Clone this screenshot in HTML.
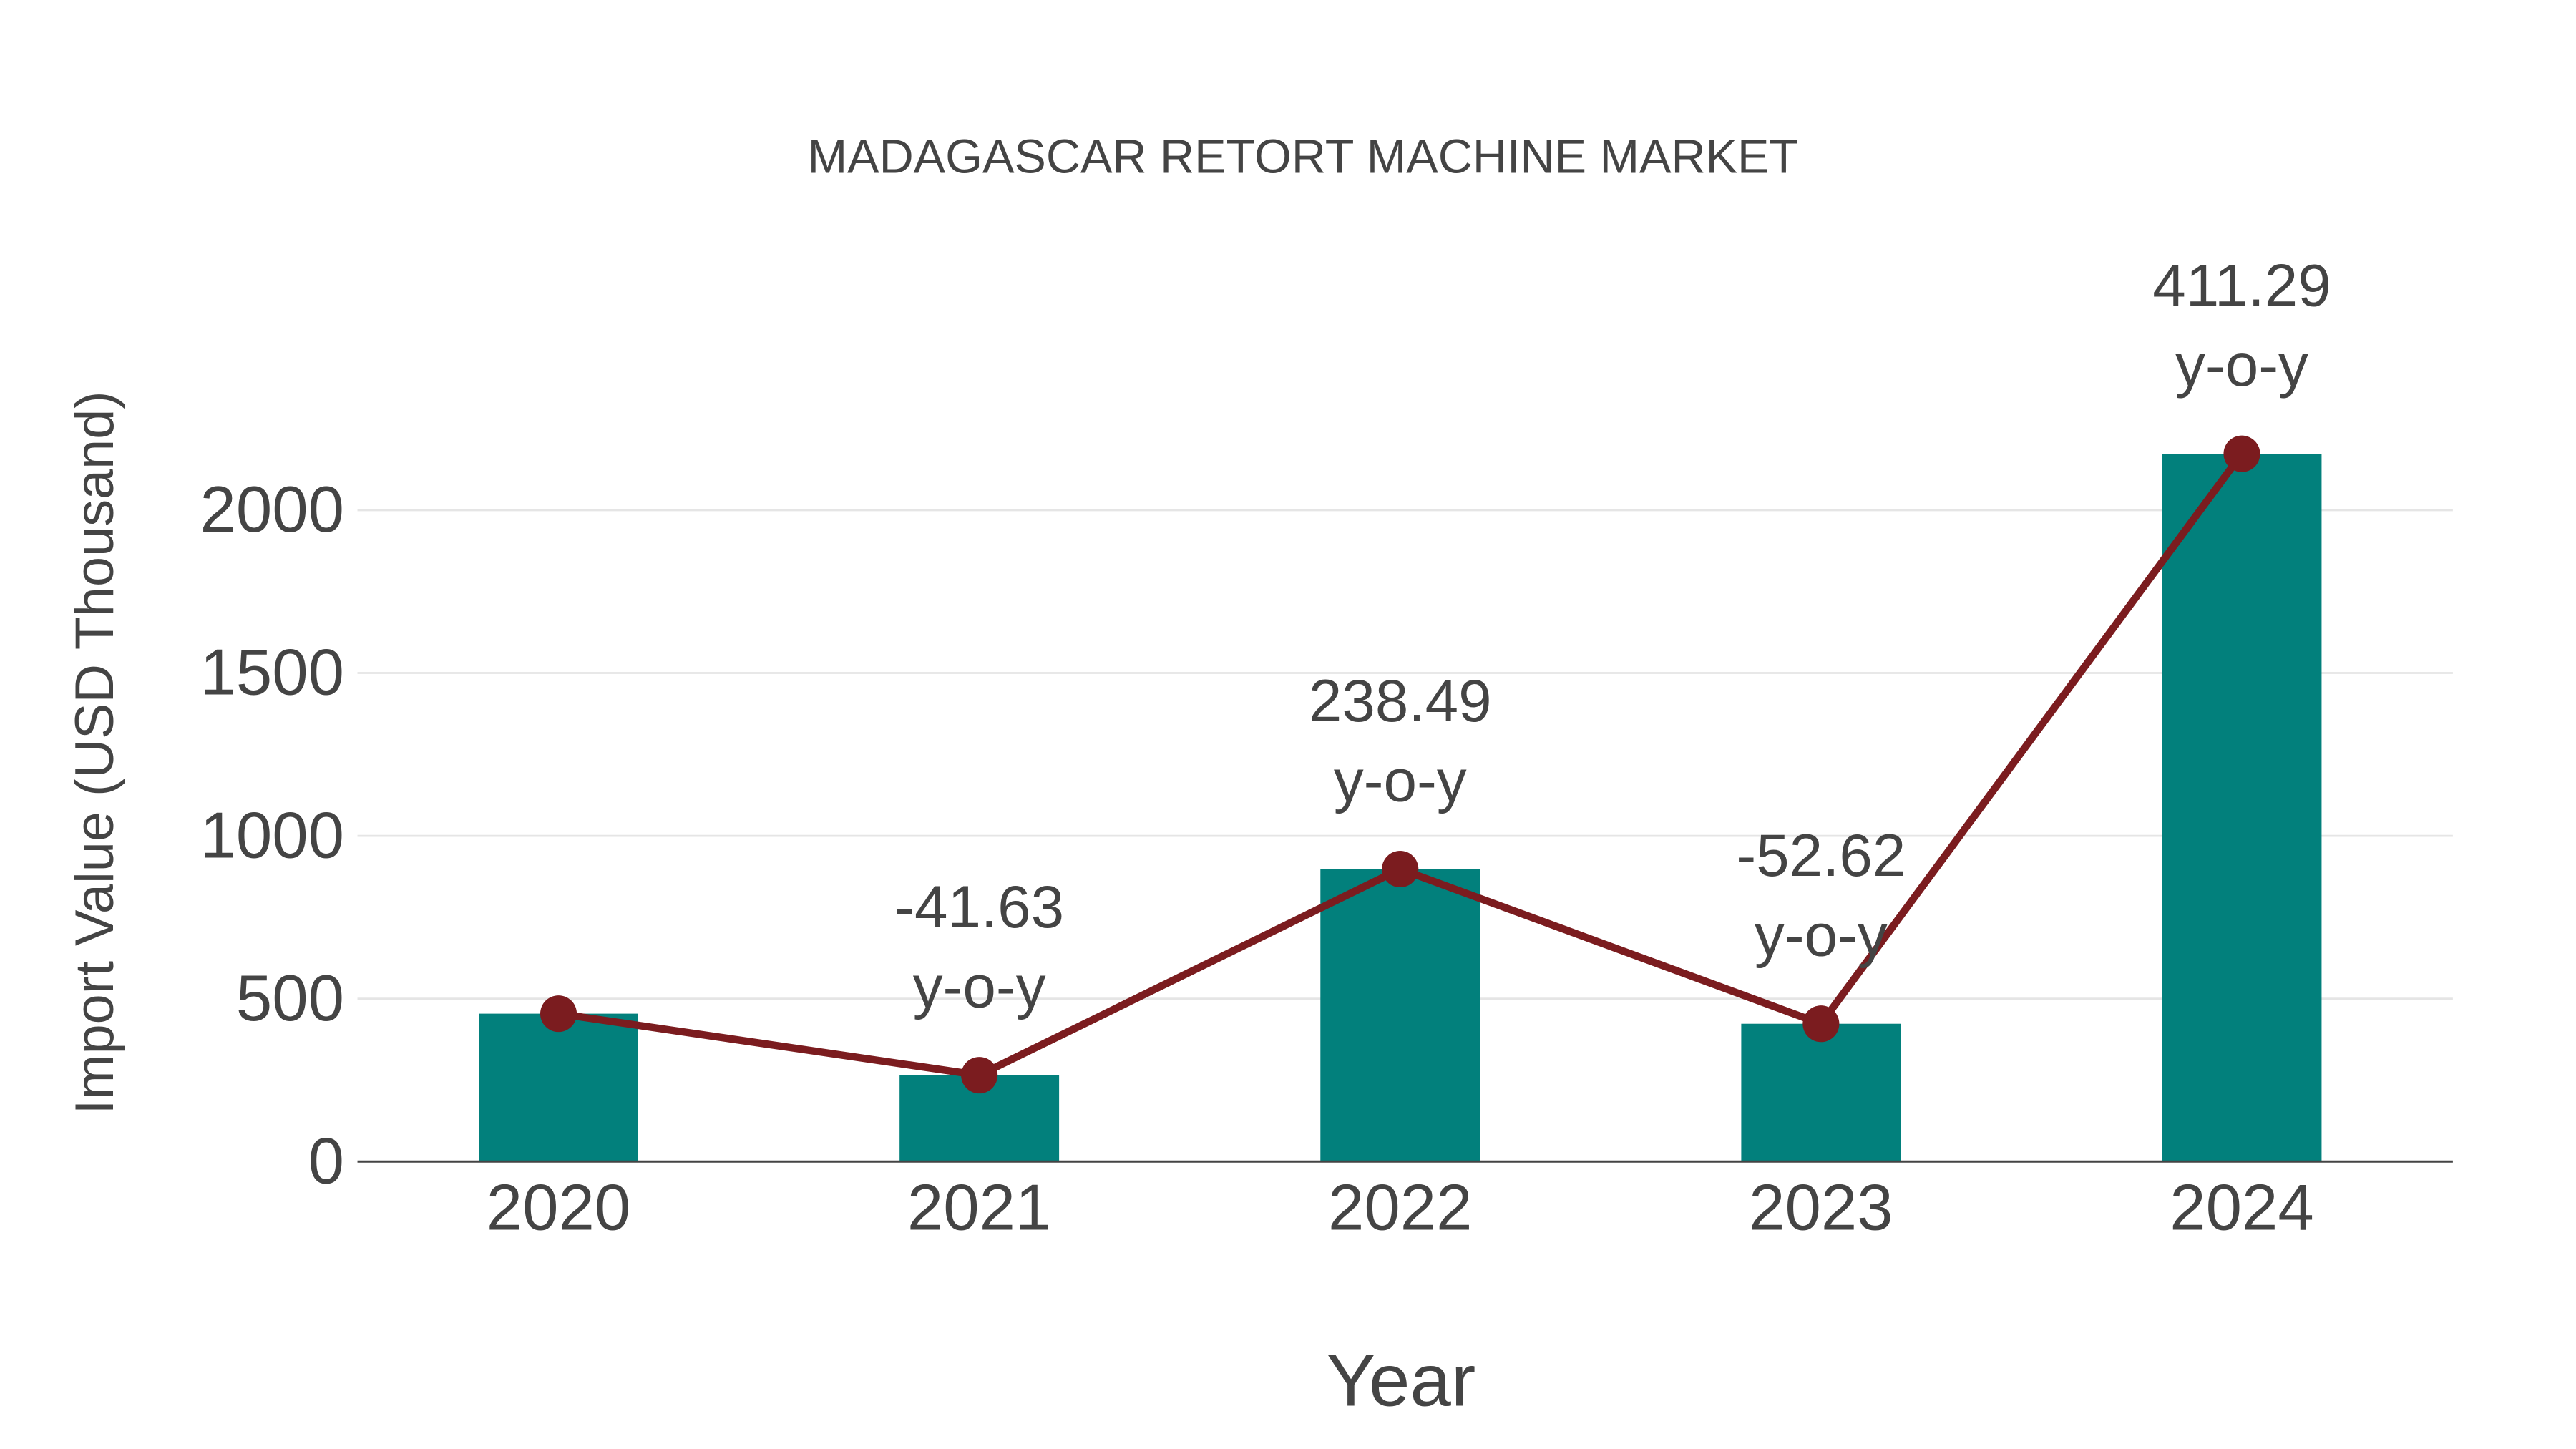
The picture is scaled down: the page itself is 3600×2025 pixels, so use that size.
<!DOCTYPE html>
<html><head><meta charset="utf-8"><style>
html,body{margin:0;padding:0;background:#fff}
svg{display:block}
text{font-family:"Liberation Sans",sans-serif;fill:#444}
</style></head><body>
<svg id="chart" width="3600" height="2025" viewBox="0 0 1550 872" xmlns="http://www.w3.org/2000/svg">
<rect width="1550" height="872" fill="#fff"/>
<text x="784" y="104" font-size="28.7" text-anchor="middle">MADAGASCAR RETORT MACHINE MARKET</text>
<g id="grid"></g>
<g id="bars"></g>
<line x1="215" x2="1476" y1="699" y2="699" stroke="#444" stroke-width="1.3"/>
<g id="line"></g>
<g id="labels"></g>
<text transform="translate(68,453) rotate(-90)" font-size="32.6" text-anchor="middle">Import Value (USD Thousand)</text>
<text x="843" y="846" font-size="44.5" text-anchor="middle">Year</text>
</svg>
<script>
const categories=["2020","2021","2022","2023","2024"];
const values=[454,265,898,423,2173];
const yoyLabels=["","-41.63","238.49","-52.62","411.29"];
const yTicks=[0,500,1000,1500,2000];
const NS="http://www.w3.org/2000/svg";
const xS=i=>336+i*253.25;
const yS=v=>699-v*0.196;
function mk(t,a,p){const e=document.createElementNS(NS,t);for(const k in a)e.setAttribute(k,a[k]);p.appendChild(e);return e;}
const grid=document.getElementById('grid');
yTicks.forEach(t=>{
  if(t>0){const l=mk('line',{x1:215,x2:1476,y1:yS(t),y2:yS(t),stroke:'#e5e5e5','stroke-width':1.2},grid);
  
  }
  const tx=mk('text',{x:207,y:yS(t)+13,'font-size':39,'text-anchor':'end'},grid);tx.textContent=t;
  
  
});
const bars=document.getElementById('bars');
categories.forEach((c,i)=>{
  const b=mk('rect',{x:xS(i)-48,y:yS(values[i]),width:96,height:yS(0)-yS(values[i]),fill:'#02807c'},bars);
  
  
  const tx=mk('text',{x:xS(i),y:740,'font-size':39,'text-anchor':'middle'},bars);tx.textContent=c;
  
  
});
const lg=document.getElementById('line');
const pl=mk('polyline',{points:values.map((v,i)=>xS(i)+','+yS(v)).join(' '),fill:'none',stroke:'#7b1c1f','stroke-width':4.5},lg);


values.forEach((v,i)=>{
  const c=mk('circle',{cx:xS(i),cy:yS(v),r:11,fill:'#7b1c1f'},lg);
  
  
});
const lb=document.getElementById('labels');
yoyLabels.forEach((s,i)=>{
  if(!s)return;
  const y=yS(values[i]);
  const t1=mk('text',{x:xS(i),y:y-89,'font-size':36,'text-anchor':'middle'},lb);t1.textContent=s;
  
  
  const t2=mk('text',{x:xS(i),y:y-41,'font-size':36,'text-anchor':'middle'},lb);t2.textContent='y-o-y';
  
  
});
</script>
</body></html>
